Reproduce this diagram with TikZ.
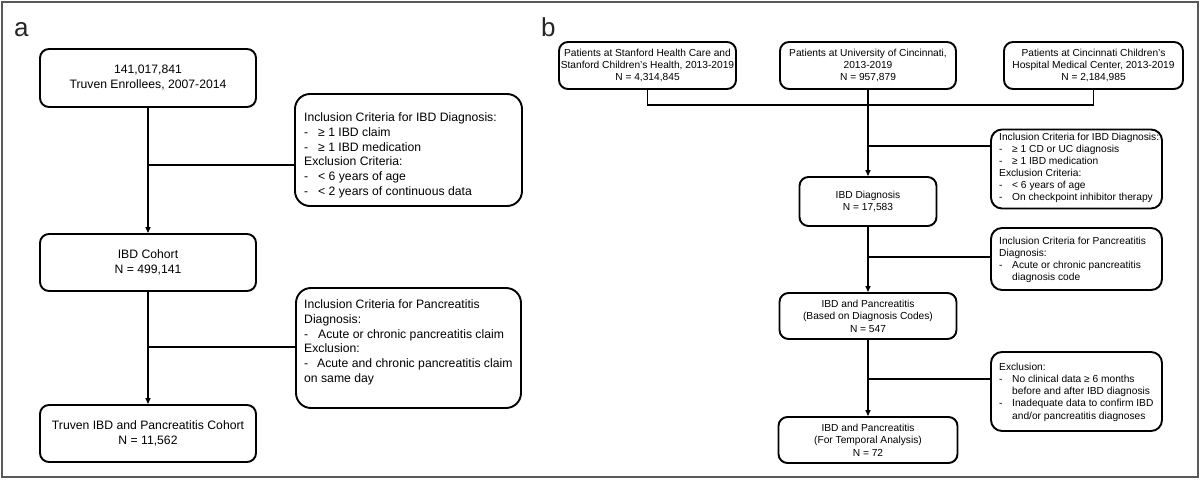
\documentclass[tikz,border=0pt]{standalone}
\usepackage{fontspec}
\setmainfont{Liberation Sans}
\usetikzlibrary{arrows.meta}
\newcommand{\dsh}[1]{\makebox[#1][l]{-}}
\begin{document}
\begin{tikzpicture}[x=1pt,y=-1pt,
  box/.style={draw=black, line width=1.9pt, rounded corners=9pt, align=center, inner sep=0pt},
  abox/.style={box, font=\fontsize{12.2}{15}\selectfont},
  bbox/.style={box, font=\fontsize{10.2}{12.4}\selectfont},
  acrit/.style={draw=black, line width=1.9pt, rounded corners=15pt, inner sep=0pt},
  bcrit/.style={draw=black, line width=1.9pt, rounded corners=11pt, inner sep=0pt},
  atext/.style={anchor=base west, inner sep=0pt, font=\fontsize{12.2}{14.8}\selectfont},
  btext/.style={anchor=base west, inner sep=0pt, font=\fontsize{10.2}{12.1}\selectfont},
  conn/.style={line width=1.4pt, draw=black},
  arr/.style={conn, -{Triangle[length=6pt,width=5pt]}},
  lbl/.style={anchor=base west, inner sep=0pt, font=\fontsize{26}{26}\selectfont, text=black!85},
]
\useasboundingbox (0,0) rectangle (1200,481);
\draw[line width=1.5pt, draw=black!65] (2,2) rectangle (1198,477);

% ---------- panel a ----------
\node[lbl] (la) at (14,37) {a};
\node[abox, minimum width=216pt, minimum height=58pt] (a1) at (148,78)
  {141,017,841\\Truven Enrollees, 2007-2014};
\node[abox, minimum width=216pt, minimum height=57pt] (a2) at (148,262.5)
  {IBD Cohort\\N = 499,141};
\node[abox, minimum width=216pt, minimum height=57pt] (a3) at (148,433.5)
  {Truven IBD and Pancreatitis Cohort\\N = 11,562};
\node[acrit, minimum width=227pt, minimum height=112pt] (ca1) at (408.5,150) {};
\node[atext] (ta1) at (304,121.5) {\parbox[t]{215pt}{Inclusion Criteria for IBD Diagnosis:\\
  \dsh{14pt}≥ 1 IBD claim\\
  \dsh{14pt}≥ 1 IBD medication\\
  Exclusion Criteria:\\
  \dsh{14pt}< 6 years of age\\
  \dsh{14pt}< 2 years of continuous data}};
\node[acrit, minimum width=225pt, minimum height=120pt] (ca2) at (408.5,348) {};
\node[atext] (ta2) at (304,308.5) {\parbox[t]{215pt}{Inclusion Criteria for Pancreatitis\\
  Diagnosis:\\
  \dsh{14pt}Acute or chronic pancreatitis claim\\
  Exclusion:\\
  \dsh{13pt}Acute and chronic pancreatitis claim\\
  on same day}};
\coordinate (ja1) at (148,165);
\coordinate (ja2) at (148,347);
\draw[arr] (a1.south) -- (a2.north);
\draw[arr] (a2.south) -- (a3.north);
\draw[conn] (ja1) -- (ca1.west |- ja1);
\draw[conn] (ja2) -- (ca2.west |- ja2);

% ---------- panel b ----------
\node[lbl] (lb) at (541,37) {b};
\node[bbox, minimum width=177pt, minimum height=47pt] (bS) at (647.5,65.5)
  {Patients at Stanford Health Care and\\Stanford Children’s Health, 2013-2019\\N = 4,314,845};
\node[bbox, minimum width=176pt, minimum height=47pt] (bM) at (868,65.5)
  {Patients at University of Cincinnati,\\2013-2019\\N = 957,879};
\node[bbox, minimum width=179pt, minimum height=47pt] (bR) at (1093.5,65.5)
  {Patients at Cincinnati Children’s\\Hospital Medical Center, 2013-2019\\N = 2,184,985};
\node[bbox, minimum width=137pt, minimum height=49pt] (bD) at (868,201.5)
  {IBD Diagnosis\\N = 17,583};
\node[bbox, minimum width=177pt, minimum height=46pt] (bP) at (868,316)
  {IBD and Pancreatitis\\(Based on Diagnosis Codes)\\N = 547};
\node[bbox, minimum width=179pt, minimum height=46pt] (bF) at (868,440)
  {IBD and Pancreatitis\\(For Temporal Analysis)\\N = 72};

\node[bcrit, minimum width=171pt, minimum height=79pt] (cb1) at (1076.5,169) {};
\node[btext] (tb1) at (999,140.5) {\parbox[t]{160pt}{Inclusion Criteria for IBD Diagnosis:\\
  \dsh{13pt}≥ 1 CD or UC diagnosis\\
  \dsh{13pt}≥ 1 IBD medication\\
  Exclusion Criteria:\\
  \dsh{13pt}< 6 years of age\\
  \dsh{13pt}On checkpoint inhibitor therapy}};
\node[bcrit, minimum width=171pt, minimum height=62pt] (cb2) at (1076.5,259) {};
\node[btext] (tb2) at (999,244.6) {\parbox[t]{160pt}{Inclusion Criteria for Pancreatitis\\
  Diagnosis:\\
  \dsh{13pt}Acute or chronic pancreatitis\\
  \hspace*{13pt}diagnosis code}};
\node[bcrit, minimum width=171pt, minimum height=79pt] (cb3) at (1076.5,391.5) {};
\node[btext] (tb3) at (999,370.6) {\parbox[t]{160pt}{Exclusion:\\
  \dsh{13pt}No clinical data ≥ 6 months\\
  \hspace*{13pt}before and after IBD diagnosis\\
  \dsh{13pt}Inadequate data to confirm IBD\\
  \hspace*{13pt}and/or pancreatitis diagnoses}};

\coordinate (jb0) at (868,105);
\coordinate (jb1) at (868,146);
\coordinate (jb2) at (868,257);
\coordinate (jb3) at (868,379);
\draw[conn] (bS.south) |- (jb0) -| (bR.south);
\draw[arr] (bM.south) -- (bD.north);
\draw[arr] (bD.south) -- (bP.north);
\draw[arr] (bP.south) -- (bF.north);
\draw[conn] (jb1) -- (cb1.west |- jb1);
\draw[conn] (jb2) -- (cb2.west |- jb2);
\draw[conn] (jb3) -- (cb3.west |- jb3);
\end{tikzpicture}
\end{document}
